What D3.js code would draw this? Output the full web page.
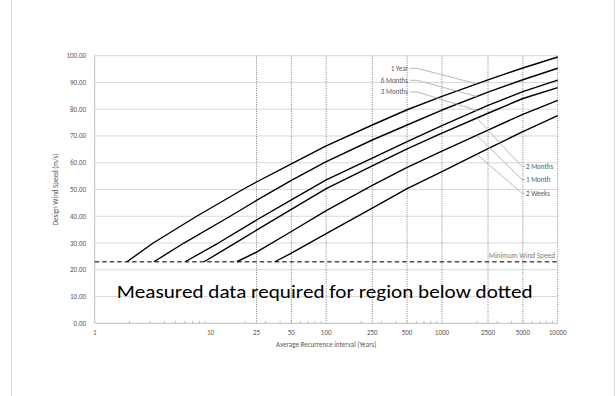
<!DOCTYPE html>
<html>
<head>
<meta charset="utf-8">
<script src="https://cdn.jsdelivr.net/npm/d3@7"></script>
<style>
  body { margin: 0; background: #fff; }
  svg { display: block; font-family: Calibri, Carlito, Lato, sans-serif; }
</style>
</head>
<body>
<script>
// recurrence interval (years) vs design wind speed (m/s)
var seriesNames = ["1 Year", "6 Months", "3 Months", "2 Months", "1 Month", "2 Weeks"];
var oneYear   = [[1.9,23],[3.2,30],[7.6,40],[19,50],[25,52.8],[50,59.6],[100,66.3],[250,74.1],[500,79.8],[1000,84.8],[2500,91],[5000,95.4],[10000,99.5]];
var sixMonths = [[3.25,23],[5.9,30],[14.8,40],[25,45.9],[50,53.4],[100,60.4],[250,68.5],[500,74.1],[1000,79.7],[2500,86.4],[5000,91],[10000,95.3]];
var threeMonths = [[6.05,23],[11.7,30],[25,38.6],[50,46.1],[100,53.6],[250,61.7],[500,67.9],[1000,73.9],[2500,81.4],[5000,86.6],[10000,90.9]];
var twoMonths = [[8.8,23],[16.9,30.3],[25,34.8],[50,42.6],[100,50.3],[250,58.8],[500,65.2],[1000,71.1],[2500,78.5],[5000,84],[10000,88.1]];
var oneMonth  = [[16.9,23],[25,26.6],[50,34.3],[100,42.1],[250,51.5],[500,58.3],[1000,64.3],[2500,72.2],[5000,78.1],[10000,83.3]];
var twoWeeks  = [[36,23],[50,26.2],[100,33.5],[250,43],[500,50.3],[1000,56.7],[2500,65.3],[5000,71.6],[10000,77.6]];
var allSeries = [oneYear, sixMonths, threeMonths, twoMonths, oneMonth, twoWeeks];

var minWindSpeed = 23;
var labelPeriod = 2000;   // where the label leaders touch the curves
var xTickLabels = [1, 10, 25, 50, 100, 250, 500, 1000, 2500, 5000, 10000];
var dottedLines = [25, 50, 100, 250, 500, 1000, 2500, 5000, 10000];
var yTicks = [0, 10, 20, 30, 40, 50, 60, 70, 80, 90, 100];

var width = 616, height = 396;
var svg = d3.select("body").append("svg")
    .attr("width", width)
    .attr("height", height);

// chart frame
svg.append("line").attr("x1", 11.5).attr("x2", 11.5).attr("y1", 0).attr("y2", height)
    .attr("stroke", "#d9d9d9");
svg.append("line").attr("x1", 614.5).attr("x2", 614.5).attr("y1", 0).attr("y2", height)
    .attr("stroke", "#d9d9d9");

var x = d3.scaleLog().domain([1, 10000]).range([94.7, 557.7]);
var y = d3.scaleLinear().domain([0, 100]).range([323.3, 55.7]);

// horizontal gridlines
svg.append("g").selectAll("line")
    .data(yTicks.filter(d => d > 0))
    .enter().append("line")
        .attr("x1", x(1)).attr("x2", x(10000))
        .attr("y1", d => y(d)).attr("y2", d => y(d))
        .attr("stroke", "#d9d9d9")
        .attr("stroke-width", 1);

// vertical dotted markers
svg.append("g").selectAll("line")
    .data(dottedLines)
    .enter().append("line")
        .attr("x1", d => x(d)).attr("x2", d => x(d))
        .attr("y1", y(100)).attr("y2", y(0))
        .attr("stroke", "#808080")
        .attr("stroke-width", 1)
        .attr("stroke-dasharray", "1,1.3");

// axes lines
svg.append("line")
    .attr("x1", x(1)).attr("x2", x(1)).attr("y1", y(100)).attr("y2", y(0))
    .attr("stroke", "#bfbfbf");
svg.append("line")
    .attr("x1", x(1)).attr("x2", x(10000)).attr("y1", y(0)).attr("y2", y(0))
    .attr("stroke", "#bfbfbf");

// minor ticks on the log axis
var minor = [];
for (var p = 1; p < 10000; p *= 10) {
    for (var m = 2; m <= 9; m++) minor.push(p * m);
}
svg.append("g").selectAll("line")
    .data(minor)
    .enter().append("line")
        .attr("x1", d => x(d)).attr("x2", d => x(d))
        .attr("y1", y(0)).attr("y2", y(0) - 2.5)
        .attr("stroke", "#bfbfbf");

// tick labels
svg.append("g").selectAll("text")
    .data(yTicks)
    .enter().append("text")
        .attr("x", 86)
        .attr("y", d => y(d) + 2.5)
        .attr("text-anchor", "end")
        .attr("font-size", "7px")
        .attr("fill", "#595959")
        .text(d3.format(".2f"));

svg.append("g").selectAll("text")
    .data(xTickLabels)
    .enter().append("text")
        .attr("x", d => x(d))
        .attr("y", 334.5)
        .attr("text-anchor", "middle")
        .attr("font-size", "7px")
        .attr("fill", "#595959")
        .text(d => d);

// axis titles
svg.append("text")
    .attr("x", (x(1) + x(10000)) / 2)
    .attr("y", 346.5)
    .attr("text-anchor", "middle")
    .attr("font-size", "7px")
    .attr("fill", "#595959")
    .text("Average Recurrence interval (Years)");

svg.append("text")
    .attr("transform", "translate(58," + ((y(0) + y(100)) / 2) + ") rotate(-90)")
    .attr("text-anchor", "middle")
    .attr("font-size", "7px")
    .attr("fill", "#595959")
    .text("Design Wind Speed (m/s)");

// minimum wind speed line
svg.append("line")
    .attr("x1", x(1)).attr("x2", x(10000))
    .attr("y1", y(minWindSpeed)).attr("y2", y(minWindSpeed))
    .attr("stroke", "#505050")
    .attr("stroke-width", 1.6)
    .attr("stroke-dasharray", "4.5,3");

svg.append("text")
    .attr("x", 555)
    .attr("y", y(minWindSpeed) - 3.5)
    .attr("text-anchor", "end")
    .attr("font-size", "7.3px")
    .attr("fill", "#808080")
    .text("Minimum Wind Speed");

// curves
var line = d3.line()
    .x(d => x(d[0]))
    .y(d => y(d[1]));

svg.append("g").selectAll("path")
    .data(allSeries)
    .enter().append("path")
        .attr("d", line)
        .attr("fill", "none")
        .attr("stroke", "#000")
        .attr("stroke-width", 1.4)
        .attr("stroke-linejoin", "round");

// value on a series at a given period (linear in log x)
function valueAt(series, period) {
    var lp = Math.log10(period);
    for (var i = 1; i < series.length; i++) {
        var a = series[i - 1], b = series[i];
        if (period <= b[0]) {
            var t = (lp - Math.log10(a[0])) / (Math.log10(b[0]) - Math.log10(a[0]));
            return a[1] + t * (b[1] - a[1]);
        }
    }
    return series[series.length - 1][1];
}

// series labels with leader lines
var labelSpots = [
    { x: 408, y: 68.3, side: "left" },
    { x: 408, y: 80.3, side: "left" },
    { x: 408, y: 91.9, side: "left" },
    { x: 526, y: 166.7, side: "right" },
    { x: 526, y: 179.5, side: "right" },
    { x: 526, y: 193.3, side: "right" }
];

var labels = svg.append("g");
seriesNames.forEach(function(name, i) {
    var spot = labelSpots[i];
    var px = x(labelPeriod), py = y(valueAt(allSeries[i], labelPeriod));
    var elbowX = spot.side === "left" ? spot.x + 9 : spot.x - 4;
    var startX = spot.side === "left" ? spot.x + 2 : spot.x - 1;
    labels.append("polyline")
        .attr("points", [[startX, spot.y], [elbowX, spot.y], [px, py]].join(" "))
        .attr("fill", "none")
        .attr("stroke", "#a6a6a6")
        .attr("stroke-width", 0.8);
    labels.append("text")
        .attr("x", spot.x)
        .attr("y", spot.y + 2.4)
        .attr("text-anchor", spot.side === "left" ? "end" : "start")
        .attr("font-size", "7px")
        .attr("fill", "#595959")
        .text(name);
});

// note below the minimum line
svg.append("text")
    .attr("x", 116.7)
    .attr("y", 297.7)
    .attr("font-size", "19px")
    .attr("fill", "#000")
    .attr("textLength", 416)
    .attr("lengthAdjust", "spacingAndGlyphs")
    .text("Measured data required for region below dotted");
</script>
</body>
</html>
